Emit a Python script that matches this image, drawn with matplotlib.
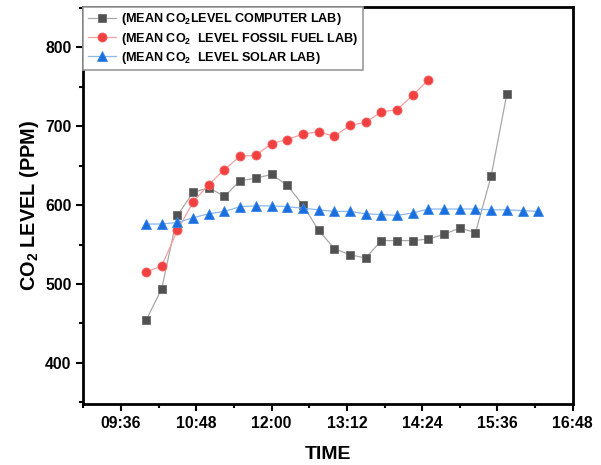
import matplotlib.pyplot as plt
from matplotlib.ticker import FuncFormatter, MultipleLocator

plt.rcParams['font.family'] = ['Liberation Sans', 'DejaVu Sans']
plt.rcParams['font.weight'] = 'bold'
plt.rcParams['mathtext.fontset'] = 'custom'
plt.rcParams['mathtext.rm'] = 'Liberation Sans:bold'
plt.rcParams['mathtext.bf'] = 'Liberation Sans:bold'
plt.rcParams['mathtext.default'] = 'bf'

# sampling times, every 15 min from 10:00
times = ['10:00', '10:15', '10:30', '10:45', '11:00', '11:15', '11:30', '11:45',
         '12:00', '12:15', '12:30', '12:45', '13:00', '13:15', '13:30', '13:45',
         '14:00', '14:15', '14:30', '14:45', '15:00', '15:15', '15:30', '15:45',
         '16:00', '16:15']

computer_lab = [454, 494, 587, 616, 622, 611, 631, 634, 639, 625, 600, 568,
                545, 537, 533, 555, 555, 555, 557, 563, 571, 565, 637, 741]
fossil_lab = [515, 523, 568, 604, 626, 645, 662, 663, 678, 683, 690, 693,
              687, 701, 705, 718, 721, 739, 759]
solar_lab = [576, 576, 578, 584, 589, 592, 598, 599, 599, 598, 596, 594,
             592, 592, 589, 588, 587, 590, 595, 595, 595, 595, 594, 594,
             593, 592]


def to_min(t):
    h, m = t.split(':')
    return int(h) * 60 + int(m)


x = [to_min(t) for t in times]

fig = plt.figure(figsize=(6.01, 4.65), dpi=100)
ax = fig.add_axes([0.1386, 0.1312, 0.8144, 0.8538])

# marker colour, connecting line colour (thin lines come out lighter)
ax.plot(x[:len(computer_lab)], computer_lab, color='#a8a8a8', lw=0.9,
        marker='s', ms=6, mfc='#515151', mec='#6a6a6a', mew=0.6,
        label='(MEAN CO$_2$LEVEL COMPUTER LAB)')
ax.plot(x[:len(fossil_lab)], fossil_lab, color='#f7a0a0', lw=0.9,
        marker='o', ms=6.5, mfc='#F14040', mec='#f36060', mew=0.6,
        label='(MEAN CO$_2$  LEVEL FOSSIL FUEL LAB)')
ax.plot(x[:len(solar_lab)], solar_lab, color='#8cb7ef', lw=0.9,
        marker='^', ms=7, mfc='#1A6FDF', mec='#3a85e6', mew=0.6,
        label='(MEAN CO$_2$  LEVEL SOLAR LAB)')

ax.set_xlim(to_min('09:00'), to_min('16:48'))
ax.set_ylim(348, 851)

ax.xaxis.set_major_locator(MultipleLocator(72))
ax.xaxis.set_minor_locator(MultipleLocator(36))
ax.xaxis.set_major_formatter(FuncFormatter(lambda v, p: '%02d:%02d' % (v // 60, v % 60)))
ax.yaxis.set_major_locator(MultipleLocator(100))
ax.yaxis.set_minor_locator(MultipleLocator(50))

ax.tick_params(which='major', direction='out', length=5, width=1.5,
               labelsize=11.3, pad=3.5)
ax.tick_params(which='minor', direction='out', length=3, width=1.5)
for lab in ax.get_xticklabels() + ax.get_yticklabels():
    lab.set_fontweight('bold')
for sp in ax.spines.values():
    sp.set_linewidth(2)

ax.set_xlabel('TIME', fontsize=14, fontweight='bold', labelpad=11)
ax.set_ylabel('CO$_2$ LEVEL (PPM)', fontsize=14.3, fontweight='bold', labelpad=3)

leg = ax.legend(loc='upper left', borderaxespad=0, fancybox=False,
                edgecolor='#9a9a9a', framealpha=1, handlelength=2.2,
                handletextpad=0.4, borderpad=0.35, labelspacing=0.25,
                prop={'size': 9.1, 'weight': 'bold'})
leg.get_frame().set_linewidth(1.2)

fig.savefig('out.png', dpi=100)
